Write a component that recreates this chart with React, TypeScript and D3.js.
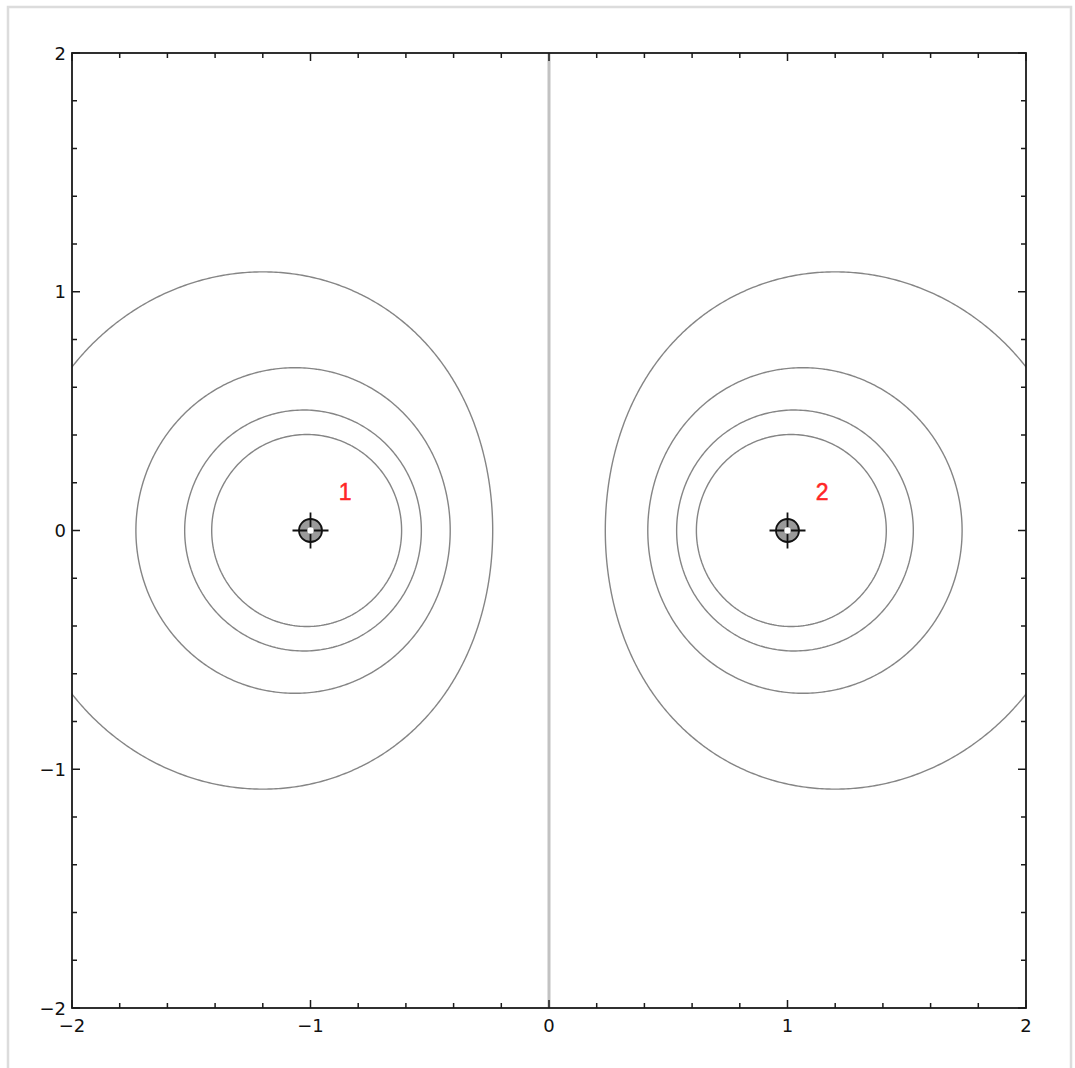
import { useMemo } from "react";
import * as d3 from "d3";

// two point charges (dipole) and the plotted equipotential levels
const chargeX = [-1, 1];
const chargeY = [0, 0];
const chargeQ = [1, -1];
const chargeLabels = ["1", "2"];
const contourLevels = [-2, -1.5, -1, -0.5, 0.5, 1, 1.5, 2];
const zeroLevel = [0];
const majorTicks = [-2, -1, 0, 1, 2];
const tickLabels = ["\u22122", "\u22121", "0", "1", "2"];

const W = 1075;
const H = 1068;
const plot = { left: 72, top: 53, right: 1026, bottom: 1008 };

export default function App() {
  const x = d3.scaleLinear().domain([-2, 2]).range([plot.left, plot.right]);
  const y = d3.scaleLinear().domain([-2, 2]).range([plot.bottom, plot.top]);

  const paths = useMemo(() => {
    // sample the potential a bit past the frame, then clip
    const ext = 2.1;
    const n = 420;
    const step = (2 * ext) / n;
    const values = new Float64Array(n * n);
    for (let j = 0; j < n; j++) {
      const py = ext - (j + 0.5) * step;
      for (let i = 0; i < n; i++) {
        const px = -ext + (i + 0.5) * step;
        let v = 0;
        for (let k = 0; k < chargeX.length; k++) {
          const r = Math.hypot(px - chargeX[k], py - chargeY[k]);
          v += chargeQ[k] / r;
        }
        values[j * n + i] = Math.max(-50, Math.min(50, v));
      }
    }
    const gen = d3.contours().size([n, n]);
    const proj = d3.geoPath(
      d3.geoTransform({
        point(gx: number, gy: number) {
          (this as any).stream.point(x(-ext + gx * step), y(ext - gy * step));
        },
      })
    );
    return {
      lines: gen.thresholds(contourLevels)(Array.from(values)).map((c) => proj(c as any) || ""),
      zero: gen.thresholds(zeroLevel)(Array.from(values)).map((c) => proj(c as any) || ""),
    };
  }, []);

  const minorTicks = d3.range(-2, 2.0001, 0.2).filter(
    (t) => !majorTicks.some((m) => Math.abs(m - t) < 1e-6)
  );
  const major = 8;
  const minor = 5;
  const axisColor = "#1a1a1a";

  return (
    <svg
      width={W}
      height={H}
      style={{ position: "absolute", left: 0, top: 0, background: "#fff" }}
    >
      <rect x={8} y={7} width={1063} height={1100} fill="none" stroke="#dcdcdc" strokeWidth={2.5} />
      <defs>
        <clipPath id="plotClip">
          <rect x={plot.left} y={plot.top} width={plot.right - plot.left} height={plot.bottom - plot.top} />
        </clipPath>
      </defs>
      <g clipPath="url(#plotClip)">
        {paths.zero.map((d, i) => (
          <path key={"z" + i} d={d} fill="none" stroke="#c2c2c2" strokeWidth={3} />
        ))}
        {paths.lines.map((d, i) => (
          <path key={"c" + i} d={d} fill="none" stroke="#858585" strokeWidth={1.4} />
        ))}
      </g>

      {/* charges */}
      {chargeX.map((cx, i) => {
        const px = x(cx);
        const py = y(chargeY[i]);
        return (
          <g key={"q" + i}>
            <circle cx={px} cy={py} r={11.5} fill="#9a9a9a" stroke="#111" strokeWidth={1.8} />
            <line x1={px - 18} x2={px + 18} y1={py} y2={py} stroke="#111" strokeWidth={1.8} />
            <line x1={px} x2={px} y1={py - 18} y2={py + 18} stroke="#111" strokeWidth={1.8} />
            <circle cx={px} cy={py} r={3.2} fill="#fff" />
            <text
              x={x(cx + 0.145)}
              y={y(chargeY[i] + 0.16)}
              fill="#ff2626"
              stroke="#ff2626"
              strokeWidth={0.5}
              fontFamily="Liberation Sans, Arial, sans-serif"
              fontSize={23}
              textAnchor="middle"
              dominantBaseline="central"
            >
              {chargeLabels[i]}
            </text>
          </g>
        );
      })}

      {/* frame and ticks */}
      <rect
        x={plot.left}
        y={plot.top}
        width={plot.right - plot.left}
        height={plot.bottom - plot.top}
        fill="none"
        stroke={axisColor}
        strokeWidth={1.8}
      />
      {[...majorTicks.map((t) => [t, major]), ...minorTicks.map((t) => [t, minor])].map(([t, len], i) => (
        <g key={"t" + i} stroke={axisColor} strokeWidth={1.5}>
          <line x1={x(t)} x2={x(t)} y1={plot.bottom} y2={plot.bottom - len} />
          <line x1={x(t)} x2={x(t)} y1={plot.top} y2={plot.top + len} />
          <line x1={plot.left} x2={plot.left + len} y1={y(t)} y2={y(t)} />
          <line x1={plot.right} x2={plot.right - len} y1={y(t)} y2={y(t)} />
        </g>
      ))}
      {majorTicks.map((t, i) => (
        <g key={"l" + i} fontFamily="DejaVu Sans, sans-serif" fontSize={18} fill="#111">
          <text x={x(t)} y={plot.bottom + 17} textAnchor="middle" dominantBaseline="central">
            {tickLabels[i]}
          </text>
          <text x={plot.left - 6} y={y(t)} textAnchor="end" dominantBaseline="central">
            {tickLabels[i]}
          </text>
        </g>
      ))}
    </svg>
  );
}
